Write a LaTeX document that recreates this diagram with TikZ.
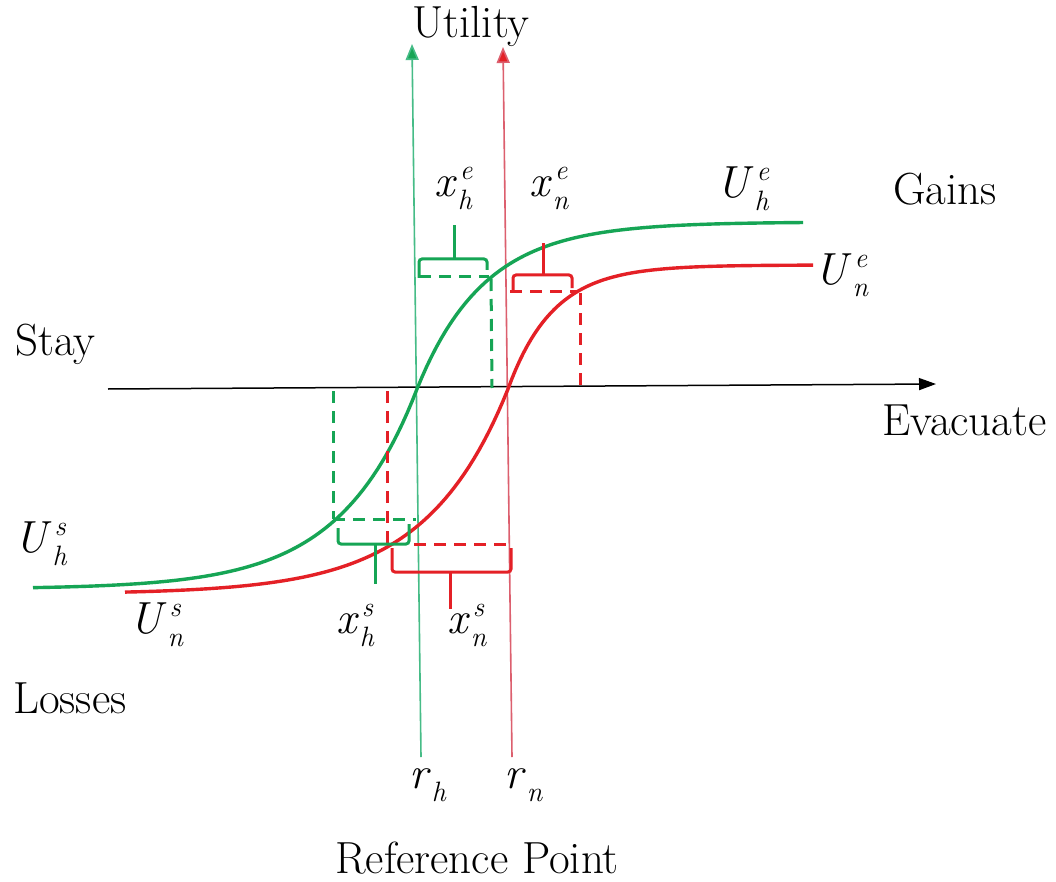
\documentclass[tikz,border=0pt]{standalone}
\usepackage{fontspec}
\usetikzlibrary{arrows.meta}
\definecolor{gc}{RGB}{22,165,85}
\definecolor{rc}{RGB}{228,32,38}
\definecolor{gl}{RGB}{70,188,135}
\definecolor{rl}{RGB}{220,95,110}
\newcommand\mlab[3]{\textit{#1}\makebox[0pt][l]{\hspace{3pt}\raisebox{17pt}{\fontsize{28}{30}\selectfont\textit{#2}}}\raisebox{-13pt}{\fontsize{28}{30}\selectfont\hspace{1pt}\textit{#3}}}
\begin{document}
\begin{tikzpicture}[x=1pt,y=-1pt,
  txt/.style={anchor=base west,inner sep=0pt,font=\fontsize{45}{50}\selectfont},
  mth/.style={anchor=base west,inner sep=0pt,font=\fontsize{45}{50}\selectfont},
  curve/.style={line width=3.4pt},
  refline/.style={line width=1.6pt},
  dsh/.style={line width=3pt,dash pattern=on 12pt off 8pt},
  brace/.style={line width=3pt,rounded corners=3pt},
  stem/.style={line width=3pt}]
\useasboundingbox (0,0) rectangle (1056,882);
\fill[white] (0,0) rectangle (1056,882);

% axis
\coordinate (axL) at (108,389);
\coordinate (axR) at (936,384);
\draw[line width=1.5pt,-{Triangle[length=17pt,width=12pt]}] (axL) -- (axR);

% reference lines
\coordinate (gB) at (421,757);
\coordinate (gT) at (412,44);
\coordinate (rB) at (512,757);
\coordinate (rT) at (503,47);
\draw[refline,gl,-{Triangle[length=16pt,width=13pt,fill=gc]}] (gB) -- (gT);
\draw[refline,rl,-{Triangle[length=16pt,width=13pt,fill=rc]}] (rB) -- (rT);

% curves
\draw[curve,gc] plot[domain=33:417,samples=80] (\x,{389+200*(1-exp((\x-417)/77))})
  -- plot[domain=417:803,samples=80] (\x,{389-167*(1-exp(-(\x-417)/67))});
\draw[curve,rc] plot[domain=125:508,samples=80] (\x,{389+205*(1-exp((\x-508)/82))})
  -- plot[domain=508:813,samples=80] (\x,{389-124*(1-exp(-(\x-508)/45))});

% upper dashed guides
\draw[dsh,gc] (419,277) -- (489,277);
\draw[dsh,gc] (491,279) -- (492,388);
\draw[dsh,rc] (510,291) -- (578,291);
\draw[dsh,rc] (580,293) -- (580,388);
% upper braces
\draw[brace,gc] (419,278) -- (419,259) -- (487,259) -- (487,270);
\draw[stem,gc] (454,259) -- (454,225);
\draw[brace,rc] (513,291) -- (513,275) -- (572,275) -- (572,288);
\draw[stem,rc] (543,275) -- (543,243);

% lower dashed guides
\draw[dsh,gc] (333,391) -- (333,519);
\draw[dsh,gc] (333,519) -- (416,519);
\draw[dsh,rc] (387,391) -- (387,543);
\draw[dsh,rc] (414,544) -- (509,544);
% lower braces
\draw[brace,gc] (338,528) -- (338,544) -- (409,544) -- (409,524);
\draw[stem,gc] (375,544) -- (375,584);
\draw[brace,rc] (392,548) -- (392,572) -- (511,572) -- (511,548);
\draw[stem,rc] (450,572) -- (450,609);

% text labels
\node[txt] (utility) at (412,38) {Utility};
\node[txt] (gains) at (893,205) {Gains};
\node[txt] (stay) at (15,355) {Stay};
\node[txt] (evac) at (882,435) {Evacuate};
\node[txt] (losses) at (13,713) {Losses};
\node[txt] (refpt) at (335,873) {Reference Point};

% math labels
\node[mth] (Uhe) at (716,198) {\mlab{U}{e}{h}};
\node[mth] (Une) at (814,284) {\mlab{U}{e}{n}};
\node[mth] (Uhs) at (14,552) {\mlab{U}{s}{h}};
\node[mth] (Uns) at (129,633) {\mlab{U}{s}{n}};
\node[mth] (xhe) at (434,197) {\mlab{x}{e}{h}};
\node[mth] (xne) at (529,197) {\mlab{x}{e}{n}};
\node[mth] (xhs) at (336,633) {\mlab{x}{s}{h}};
\node[mth] (xns) at (447,633) {\mlab{x}{s}{n}};
\node[mth] (rh) at (409,788) {\mlab{r}{}{h}};
\node[mth] (rn) at (504,788) {\mlab{r}{}{n}};
\end{tikzpicture}
\end{document}
